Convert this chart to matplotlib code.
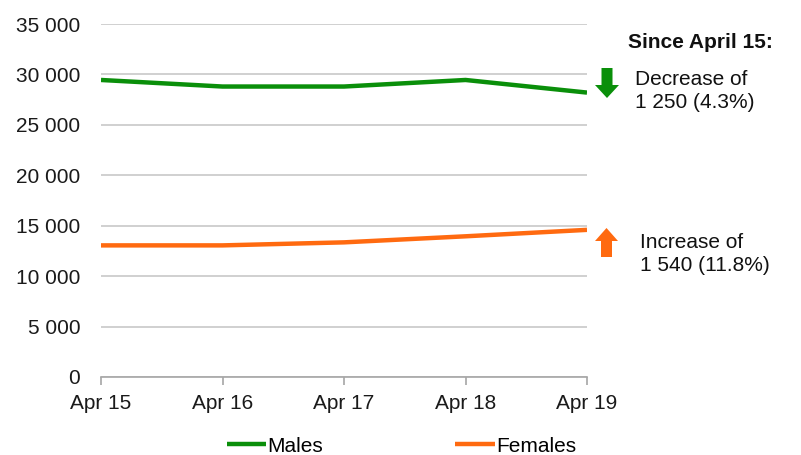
import numpy as np
import matplotlib
matplotlib.use('Agg')
import matplotlib.pyplot as plt
from matplotlib.patches import Polygon

plt.rcParams['font.family'] = ['Liberation Sans', 'DejaVu Sans']

months = ['Apr 15', 'Apr 16', 'Apr 17', 'Apr 18', 'Apr 19']
males = [29450, 28800, 28800, 29450, 28200]
females = [13050, 13050, 13350, 13950, 14590]

GREEN = '#0a8f0a'
ORANGE = '#ff6a10'
W, H = 801, 455
FS = 15


def fx(px):
    return px / W


def fy(py):
    return 1 - py / H


def arrow(x0, x1, ytop, ybot, head, shaft, up, color):
    # block arrow drawn in pixel coordinates of the figure
    cx = (x0 + x1) / 2
    if up:
        pts = [(cx, ytop), (x1, ytop + head), (cx + shaft / 2, ytop + head),
               (cx + shaft / 2, ybot), (cx - shaft / 2, ybot),
               (cx - shaft / 2, ytop + head), (x0, ytop + head)]
    else:
        pts = [(cx, ybot), (x1, ybot - head), (cx + shaft / 2, ybot - head),
               (cx + shaft / 2, ytop), (cx - shaft / 2, ytop),
               (cx - shaft / 2, ybot - head), (x0, ybot - head)]
    fig.patches.append(Polygon([(fx(a), fy(b)) for a, b in pts], closed=True,
                               transform=fig.transFigure, color=color, lw=0))


fig = plt.figure(figsize=(W / 100, H / 100), dpi=100)
ax = fig.add_axes([fx(101), fy(377), fx(587) - fx(101), fy(24) - fy(377)])

x = np.arange(len(months))
ax.plot(x, males, color=GREEN, lw=3.2, label='Males', solid_capstyle='butt')
ax.plot(x, females, color=ORANGE, lw=3.2, label='Females', solid_capstyle='butt')

ax.set_xlim(0, len(months) - 1)
ax.set_ylim(0, 35000)
ax.set_yticks(range(0, 35001, 5000))
ax.set_yticklabels([f'{v:,}'.replace(',', ' ') for v in range(0, 35001, 5000)])
ax.set_xticks(x)
ax.set_xticklabels(months)
ax.grid(axis='y', color='#c8c8c8', lw=1.2)
ax.set_axisbelow(True)
for s in ['top', 'right', 'left']:
    ax.spines[s].set_visible(False)
ax.spines['bottom'].set_color('#a6a6a6')
ax.spines['bottom'].set_linewidth(1.2)
ax.tick_params(axis='y', length=0, pad=15, labelsize=FS, labelcolor='#1a1a1a')
ax.tick_params(axis='x', length=6, width=1.2, color='#a6a6a6', pad=6,
               labelsize=FS, labelcolor='#1a1a1a')

fig.legend(loc='center', bbox_to_anchor=(fx(401.5), fy(446)), ncol=2, frameon=False,
           fontsize=FS, handlelength=1.9, handletextpad=0.05, columnspacing=6.35,
           borderpad=0)

fig.text(fx(628), fy(43), 'Since April 15:', fontsize=FS, fontweight='bold',
         va='center', ha='left', color='#111111')
fig.text(fx(635), fy(91), 'Decrease of\n1 250 (4.3%)', fontsize=FS,
         va='center', ha='left', linespacing=1.25, color='#111111')
fig.text(fx(640), fy(254), 'Increase of\n1 540 (11.8%)', fontsize=FS,
         va='center', ha='left', linespacing=1.3, color='#111111')

arrow(595, 619, 68, 98, 13, 11, False, GREEN)
arrow(595, 618, 228, 257, 13, 11, True, ORANGE)

fig.savefig('out.png', dpi=100)
